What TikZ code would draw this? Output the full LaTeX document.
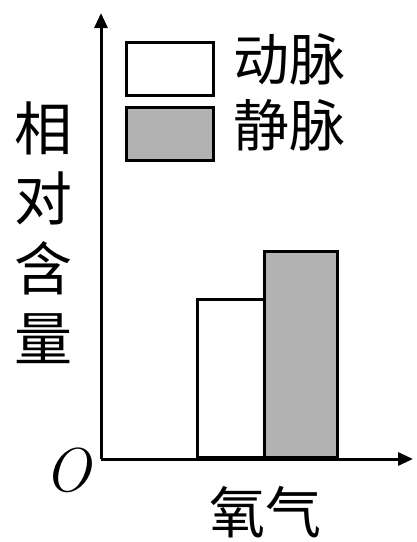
\documentclass[tikz,border=0pt]{standalone}
\usepackage{fontspec}
\newfontfamily\cjk{Noto Sans CJK SC}
\usetikzlibrary{arrows.meta}
\tikzset{
  bar/.style={draw,line width=3pt,inner sep=0pt,anchor=south west},
  key/.style={draw,line width=3pt,inner sep=0pt,minimum width=87pt,minimum height=53pt},
  lbl/.style={inner sep=0pt,font=\cjk\fontsize{56}{56}\selectfont}
}
\begin{document}
\begin{tikzpicture}[x=1pt,y=-1pt]
\useasboundingbox (0,0) rectangle (417,542);
% axes
\coordinate (o) at (101,459);
\coordinate (ytop) at (101,13);
\coordinate (xend) at (413,459);
\draw[line width=3pt,-{Triangle[length=15pt,width=13pt]}] (o) -- (ytop);
\draw[line width=3pt,-{Triangle[length=15pt,width=13pt]}] (o) -- (xend);
\node[inner sep=0pt] (orig) at (68,470) {\fontsize{62}{62}\selectfont\itshape O};

% two bars
\node[bar,fill=white,minimum width=67pt,minimum height=158pt] (art) at (196,459) {};
\node[bar,fill=black!30,minimum width=73pt,minimum height=206pt] (ven) at (263,459) {};

% legend
\node[key,fill=white] (k1) at (169.5,68.5) {};
\node[key,fill=black!30] (k2) at (169.5,133.5) {};
\node[lbl,anchor=west] (t1) at (233,59) {动脉};
\node[lbl,anchor=west] (t2) at (233,125) {静脉};

% axis labels
\node[lbl,align=center,font=\cjk\fontsize{58}{70}\selectfont] (ylab) at (43,233) {相\\对\\含\\量};
\node[lbl] (xlab) at (265,512) {氧气};
\end{tikzpicture}
\end{document}
